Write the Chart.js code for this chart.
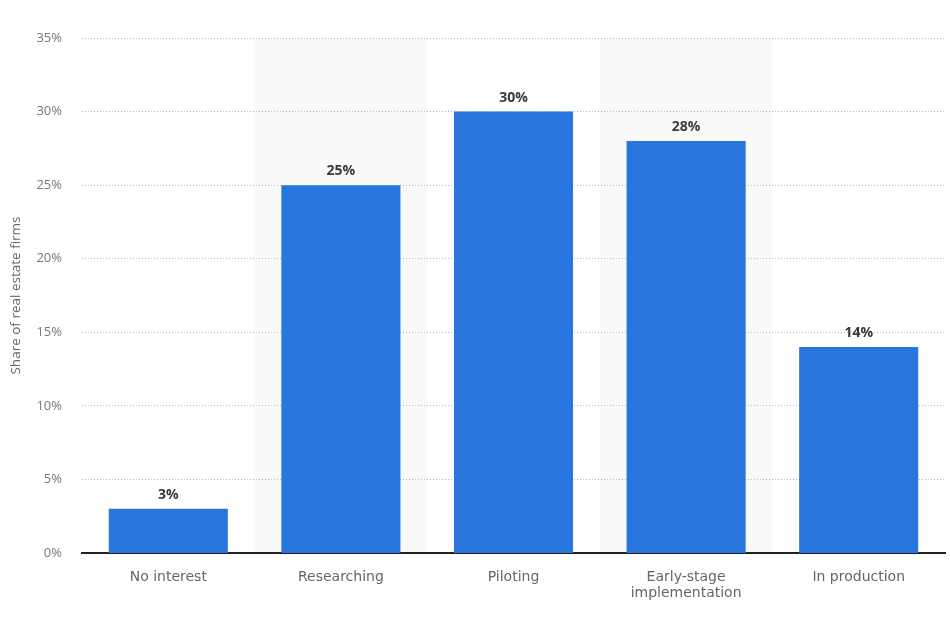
<!DOCTYPE html>
<html lang="en">
<head>
  <meta charset="UTF-8">
  <title>Share of real estate firms</title>
  <script src="https://cdn.jsdelivr.net/npm/chart.js"></script>
  <style>
    body {
      margin: 0;
      background: #fff;
    }
    #wrap {
      width: 950px;
      height: 630px;
      position: relative;
    }
  </style>
</head>
<body>

<div id="wrap">
  <canvas id="chart" width="950" height="630"></canvas>
</div>

<script>
  var categories = ['No interest', 'Researching', 'Piloting', ['Early-stage', 'implementation'], 'In production'];
  var shares = [3, 25, 30, 28, 14];
  var yTicks = [0, 5, 10, 15, 20, 25, 30, 35];

  // grey bands behind every other category, drawn before the grid
  var bandPlugin = {
    id: 'bands',
    beforeDraw: function (chart) {
      var ctx = chart.ctx;
      var x = chart.scales.x;
      var area = chart.chartArea;
      var w = (area.right - area.left) / categories.length;
      ctx.save();
      ctx.fillStyle = '#f9f9f9';
      for (var i = 1; i < categories.length; i += 2) {
        var c = x.getPixelForValue(i);
        ctx.fillRect(c - w / 2, area.top, w, area.bottom - area.top);
      }
      ctx.restore();
    }
  };

  var labelPlugin = {
    id: 'valueLabels',
    afterDatasetsDraw: function (chart) {
      var ctx = chart.ctx;
      var meta = chart.getDatasetMeta(0);
      ctx.save();
      ctx.font = 'bold 14px "Open Sans", sans-serif';
      ctx.fillStyle = '#3a3a3a';
      ctx.textAlign = 'center';
      ctx.textBaseline = 'bottom';
      meta.data.forEach(function (bar, i) {
        ctx.fillText(shares[i] + '%', bar.x, bar.y - 7);
      });
      ctx.restore();
    }
  };

  new Chart(document.getElementById('chart').getContext('2d'), {
    type: 'bar',
    data: {
      labels: categories,
      datasets: [{
        data: shares,
        backgroundColor: '#2876dd',
        categoryPercentage: 0.69,
        barPercentage: 1
      }]
    },
    options: {
      responsive: false,
      animation: false,
      layout: {
        padding: { top: 38, right: 5, left: 0, bottom: 0 }
      },
      scales: {
        y: {
          min: 0,
          max: 35,
          afterBuildTicks: function (scale) {
            scale.ticks = yTicks.map(function (v) { return { value: v }; });
          },
          afterFit: function (scale) {
            scale.width = 82;
          },
          border: { display: false, dash: [1, 2] },
          grid: {
            color: '#b8b8b8',
            drawTicks: false,
            lineWidth: function (c) { return c.tick.value === 0 ? 0 : 1; }
          },
          ticks: {
            padding: 20,
            color: '#777',
            font: { family: '"Open Sans", sans-serif', size: 13 },
            callback: function (v) { return v + '%'; }
          },
          title: {
            display: true,
            text: 'Share of real estate firms',
            color: '#666',
            font: { family: '"Open Sans", sans-serif', size: 13.5 },
            padding: { top: 8, bottom: 0 }
          }
        },
        x: {
          afterFit: function (scale) {
            scale.height = 77;
          },
          border: { display: true, color: '#222', width: 2 },
          grid: { display: false },
          ticks: {
            padding: 9,
            color: '#666',
            maxRotation: 0,
            font: { family: '"DejaVu Sans", sans-serif', size: 14, lineHeight: 1.1 }
          }
        }
      },
      plugins: {
        legend: { display: false },
        tooltip: { enabled: false }
      }
    },
    plugins: [bandPlugin, labelPlugin]
  });
</script>

</body>
</html>
